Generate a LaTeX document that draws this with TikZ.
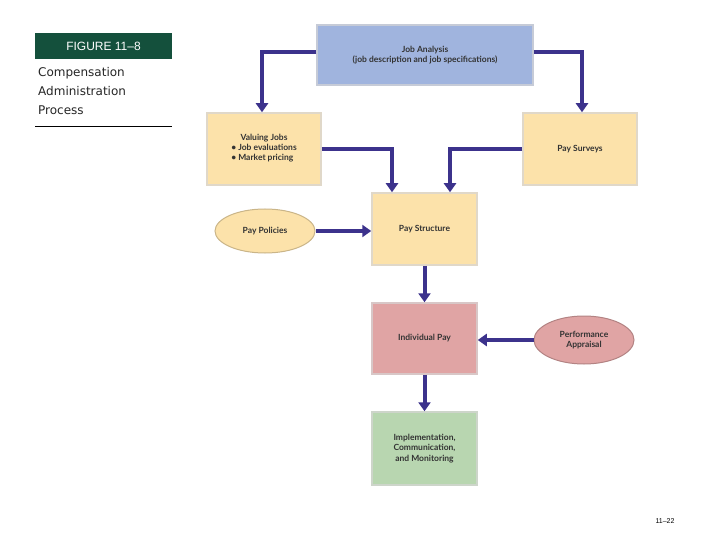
\documentclass[tikz,border=0pt]{standalone}
\usepackage{fontspec}
\setmainfont{Lato}
\newfontfamily\hdrfont{Liberation Sans}
\newfontfamily\capfont{DejaVu Sans}
\usetikzlibrary{arrows.meta,shapes.geometric}
\definecolor{arr}{RGB}{60,50,140}
\definecolor{fblue}{RGB}{160,180,222}
\definecolor{fyel}{RGB}{252,226,170}
\definecolor{fpink}{RGB}{224,164,164}
\definecolor{fgreen}{RGB}{184,214,176}
\definecolor{hgreen}{RGB}{20,80,60}
\begin{document}
\begin{tikzpicture}[x=1pt,y=-1pt,
  box/.style={draw=#1!70!black!40, line width=1.5pt, fill=#1, font=\fontsize{8.5}{10.5}\selectfont\bfseries, text=black!80, align=center},
  ell/.style={ellipse, draw=#1!80!black, line width=1pt, fill=#1, font=\fontsize{8.5}{10.5}\selectfont\bfseries, text=black!80, align=center, minimum width=100pt, inner sep=0pt},
  con/.style={draw=arr, line width=4pt, -{Triangle[length=9pt,width=12pt]}}]
\useasboundingbox (0,0) rectangle (720,540);
\fill[white] (0,0) rectangle (720,540);
\node[fill=hgreen, text=white, minimum width=137pt, minimum height=26pt, inner sep=0pt, font=\hdrfont\fontsize{12}{14}\selectfont] (fig) at (103.5,46) {FIGURE 11–8};
\node[anchor=north west, align=left, inner sep=0pt, font=\capfont\fontsize{12}{19}\selectfont, text=black!85] (cap) at (38,67) {Compensation\\Administration\\Process};
\draw[line width=0.8pt] (35,126) -- (172,126);
\node[font=\hdrfont\fontsize{7}{8}\selectfont] (pg) at (665,521) {11–22};

\node[box=fblue, minimum width=216pt, minimum height=60pt] (ja) at (425,55) {Job Analysis\\(job description and job specifications)};
\node[box=fyel, minimum width=114pt, minimum height=72pt] (vj) at (264,149) {Valuing Jobs\\[0pt]\begin{tabular}{@{}l@{}}\textbullet\ Job evaluations\\ \textbullet\ Market pricing\end{tabular}};
\node[box=fyel, minimum width=114pt, minimum height=72pt] (ps) at (580,149) {Pay Surveys};
\node[box=fyel, minimum width=105pt, minimum height=72pt] (st) at (424.5,229) {Pay Structure};
\node[ell=fyel, minimum height=44pt] (pp) at (265,231) {Pay Policies};
\node[box=fpink, minimum width=105pt, minimum height=71pt] (ip) at (424.5,338.5) {Individual Pay};
\node[ell=fpink, minimum height=48pt] (pa) at (584,340) {Performance\\Appraisal};
\node[box=fgreen, minimum width=105pt, minimum height=73pt] (im) at (424.5,448.5) {Implementation,\\Communication,\\and Monitoring};

\coordinate (c1) at (262,52); \coordinate (c2) at (582,52);
\draw[con] (ja.west |- c1) -- (c1) -- (c1 |- vj.north);
\draw[con] (ja.east |- c2) -- (c2) -- (c2 |- ps.north);
\coordinate (c3) at (392,149); \coordinate (c4) at (450,149);
\draw[con] (vj.east |- c3) -- (c3) -- (c3 |- st.north);
\draw[con] (ps.west |- c4) -- (c4) -- (c4 |- st.north);
\draw[con] (pp.east) -- (st.west |- pp.east);
\draw[con] (st.south) -- (ip.north);
\draw[con] (pa.west) -- (ip.east |- pa.west);
\draw[con] (ip.south) -- (im.north);
\end{tikzpicture}
\end{document}
